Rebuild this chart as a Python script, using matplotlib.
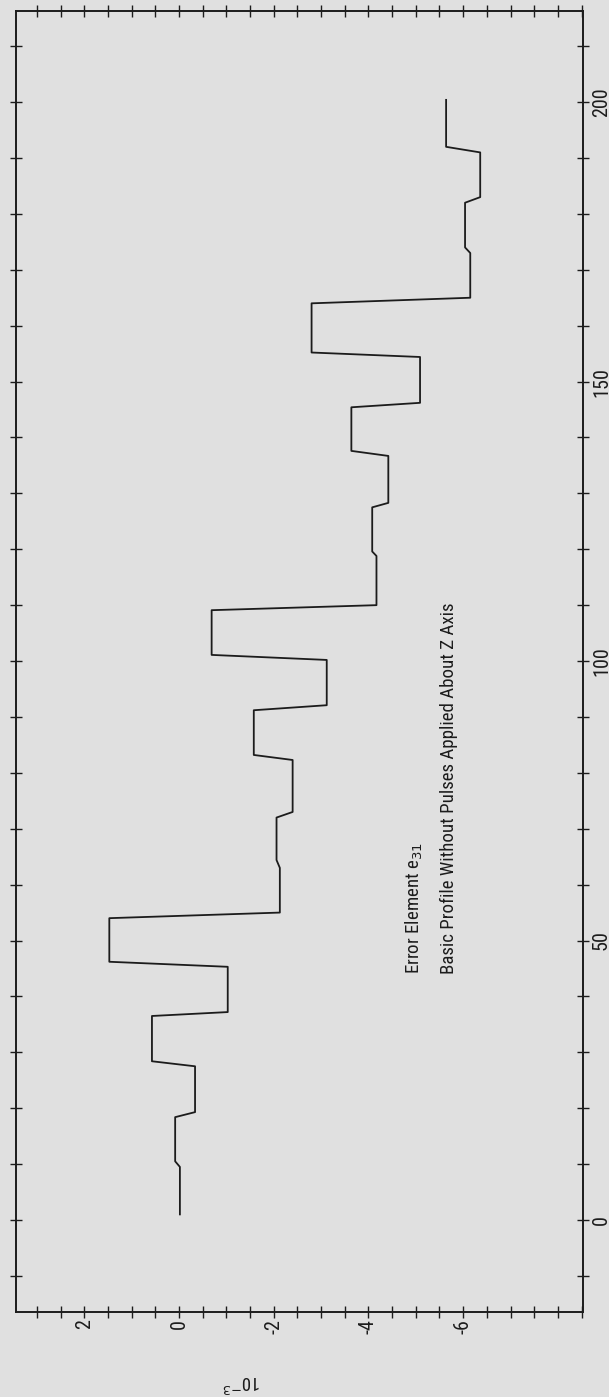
import matplotlib
matplotlib.use("Agg")
import matplotlib.pyplot as plt
import matplotlib.font_manager as fm
import numpy as np

# Step profile vertices (time, error element value in units of 1e-3)
time_pts = [1, 9.5, 10.5, 18.4, 19.3, 27.5, 28.4, 36.5, 37.2, 45.3, 46.2, 54, 55,
            63, 64.4, 72, 73, 82.3, 83.2, 91.2, 92.1, 100.2, 101.1, 109.1, 110,
            118.8, 119.6, 127.5, 128.3, 136.7, 137.6, 145.4, 146.2, 154.4, 155.2,
            164, 165, 173, 174, 182, 183, 191, 192, 200.4]
e31_vals = [-0.02, -0.02, 0.08, 0.08, -0.34, -0.34, 0.57, 0.57, -1.03, -1.03, 1.47,
            1.47, -2.13, -2.13, -2.06, -2.06, -2.40, -2.40, -1.58, -1.58, -3.12,
            -3.12, -0.69, -0.69, -4.17, -4.17, -4.08, -4.08, -4.42, -4.42, -3.64,
            -3.64, -5.09, -5.09, -2.80, -2.80, -6.15, -6.15, -6.04, -6.04, -6.36,
            -6.36, -5.64, -5.64]

value_major = [2, 0, -2, -4, -6]
value_labels = ["2", "0", "-2", "-4", "-6"]
time_major = [0, 50, 100, 150, 200]
time_labels = ["0", "50", "100", "150", "200"]

# ---- pick a condensed sans face if one is installed ----
cond_path = None
pref = ['Liberation Sans Narrow', 'Roboto Condensed', 'Open Sans Condensed',
        'Noto Sans Condensed', 'DejaVu Sans Condensed']
ents = fm.fontManager.ttflist
for p in pref:
    for f in ents:
        if f.name == p and f.style == 'normal' and f.weight in (400, 'normal', 'regular'):
            cond_path = f.fname
            break
    if cond_path:
        break
if cond_path is None:
    for f in ents:
        st = str(f.stretch)
        if (st in ('condensed', 'semi-condensed', 'extra-condensed') or st.isdigit() and int(st) < 100
                or 'Condensed' in f.fname or 'Narrow' in f.fname) and f.style == 'normal' \
                and 'Bold' not in f.fname and 'Light' not in f.fname and 'Oblique' not in f.fname:
            cond_path = f.fname
            break

if cond_path:
    def fp(size):
        return fm.FontProperties(fname=cond_path, size=size)
    base = 1.0
else:
    def fp(size):
        return fm.FontProperties(family='DejaVu Sans', size=size)
    base = 0.85

bg = '#e0e0e0'
ink = '#1c1c1c'

fig = plt.figure(figsize=(6.09, 13.97), dpi=100, facecolor=bg)
W, H = 609, 1397
x0, x1, y0, y1 = 16, 583, 11, 1312
ax = fig.add_axes([x0 / W, 1 - y1 / H, (x1 - x0) / W, (y1 - y0) / H])
ax.set_facecolor(bg)

# chart is drawn rotated: time runs upward, value runs right-to-left
ax.plot(e31_vals, time_pts, color=ink, lw=1.3)

ax.set_xlim(3.44, -8.53)
ax.set_ylim(-16.46, 216.3)

ax.set_xticks(value_major)
ax.set_xticklabels(value_labels, rotation=90)
ax.set_xticks(np.arange(-8.5, 3.5, 0.5), minor=True)
ax.set_yticks(time_major)
ax.set_yticklabels(time_labels, rotation=90, va='center')
ax.set_yticks(np.arange(-10, 215, 10), minor=True)

for s in ax.spines.values():
    s.set_color(ink)
    s.set_linewidth(1.4)

ax.tick_params(axis='both', which='both', direction='inout', length=8, width=1.0,
               color=ink, top=True, bottom=True, left=True, right=True,
               labelcolor=ink)
ax.tick_params(axis='x', which='major', pad=1)
ax.tick_params(axis='y', which='major', labelleft=False, labelright=True, pad=2.5)
for lab in ax.get_xticklabels() + ax.get_yticklabels():
    lab.set_fontproperties(fp(14.5 * base))

tfp = fp(13.6 * base)
ax.text(-4.96, 44, "Error Element e$_{31}$", rotation=90, ha='center', va='bottom',
        fontproperties=tfp, color=ink)
ax.text(-5.70, 44, "Basic Profile Without Pulses Applied About Z Axis", rotation=90,
        ha='center', va='bottom', fontproperties=tfp, color=ink)

fig.text(242 / W, 1 - 1382 / H, r"10$^{-3}$", rotation=180, ha='center', va='center',
         fontproperties=fp(13.5 * base), color=ink)

fig.savefig("out.png", dpi=100, facecolor=bg)
